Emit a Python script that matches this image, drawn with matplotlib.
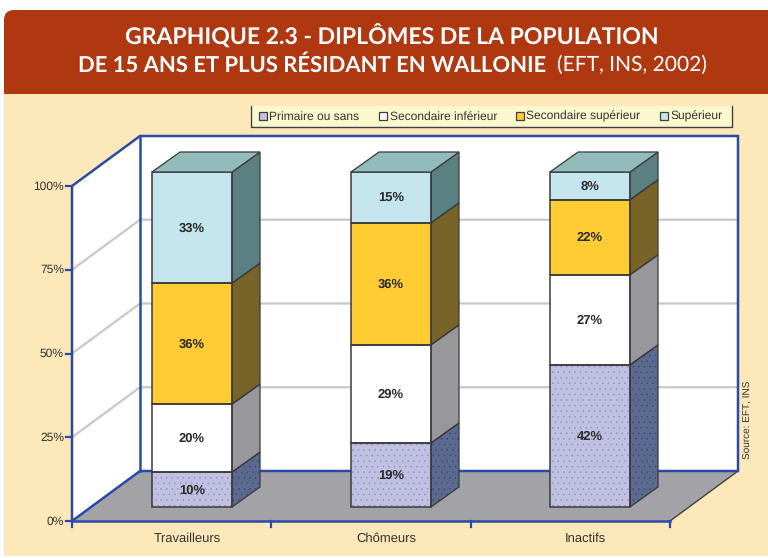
import matplotlib.pyplot as plt
from matplotlib.patches import Polygon, Rectangle, FancyBboxPatch

plt.rcParams['font.family'] = ['Liberation Sans', 'DejaVu Sans']
plt.rcParams['hatch.linewidth'] = 0.3
plt.rcParams['text.hinting'] = 'no_hinting'
plt.rcParams['text.hinting_factor'] = 1

categories = ['Travailleurs', 'Chômeurs', 'Inactifs']
series = ['Primaire ou sans', 'Secondaire inférieur', 'Secondaire supérieur', 'Supérieur']

# segment heights as drawn (%), the printed labels are rounded
primaire = [10.4, 19.1, 42.4]
sec_inf = [20.3, 29.3, 26.9]
sec_sup = [36.1, 36.4, 22.4]
superieur = [33.2, 15.2, 8.3]
values = [primaire, sec_inf, sec_sup, superieur]

primaire_lab = ['10%', '19%', '42%']
sec_inf_lab = ['20%', '29%', '27%']
sec_sup_lab = ['36%', '36%', '22%']
superieur_lab = ['33%', '15%', '8%']
labels = [primaire_lab, sec_inf_lab, sec_sup_lab, superieur_lab]

y_ticks = [0, 25, 50, 75, 100]

face_col = ['#c0c0e2', '#ffffff', '#ffcc33', '#c4e4ee']
side_col = ['#5a6a90', '#98989c', '#786428', '#5a8082']
hatch_face = '#8c8cb4'
hatch_side = '#36466a'
top_col = '#92bcbc'
blue = '#2a4aa8'
edge = '#3a3a3a'
txt = '#333333'

# box geometry in pixels
x0, x1 = 72, 670
y0, y100 = 521, 186
wall_dx, wall_dy = 68, -50
bar_left, bar_step, bar_w = 152, 199, 80
bar_dy = -14
side_dx, side_dy = 28, -20


def py(pct, offset=0):
    return y0 + offset - pct * (y0 - y100) / 100


fig = plt.figure(figsize=(7.68, 5.58), dpi=100, facecolor='white')
ax = fig.add_axes([0, 0, 1, 1])
ax.set_xlim(0, 768)
ax.set_ylim(558, 0)
ax.axis('off')

# background and title band
ax.add_patch(Rectangle((4, 60), 764, 496, fc='#fde8b9', ec='none', zorder=0))
ax.add_patch(FancyBboxPatch((4, 10), 800, 100, boxstyle='round,pad=0,rounding_size=10',
                            fc='#b03810', ec='none', lw=0, zorder=1))
ax.add_patch(Rectangle((4, 94), 764, 60, fc='#fde8b9', ec='none', zorder=1))

ax.text(392, 36, 'GRAPHIQUE 2.3 - DIPLÔMES DE LA POPULATION', color='white', fontsize=16.9,
        fontweight='bold', ha='center', va='center', family='Lato', zorder=2)
ax.text(78, 65, 'DE 15 ANS ET PLUS RÉSIDANT EN WALLONIE', color='white', fontsize=16.2,
        fontweight='bold', ha='left', va='center', family='Lato', zorder=2)
ax.text(707, 65, '(EFT, INS, 2002)', color='white', fontsize=14.9, ha='right', va='center',
        family='Lato', zorder=2)

# walls and floor
ax.add_patch(Polygon([(x0, y0), (x0 + wall_dx, y0 + wall_dy), (x0 + wall_dx, y100 + wall_dy), (x0, y100)],
                     fc='white', ec='none', zorder=2))
ax.add_patch(Rectangle((x0 + wall_dx, y100 + wall_dy), x1 - x0, y0 - y100, fc='white', ec='none', zorder=2))
ax.add_patch(Polygon([(x0, y0), (x1, y0), (x1 + wall_dx, y0 + wall_dy), (x0 + wall_dx, y0 + wall_dy)],
                     fc='#a3a3a7', ec='none', zorder=2))
ax.plot([x1, x1 + wall_dx], [y0, y0 + wall_dy], color='#404040', lw=1, zorder=3)

for t in y_ticks[1:-1]:
    ax.plot([x0, x0 + wall_dx, x1 + wall_dx], [py(t), py(t, wall_dy), py(t, wall_dy)],
            color='#c8c8c8', lw=1.6, zorder=3)

ax.plot([x0, x0, x0 + wall_dx, x1 + wall_dx, x1 + wall_dx, x0 + wall_dx, x0],
        [y0, y100, y100 + wall_dy, y100 + wall_dy, y0 + wall_dy, y0 + wall_dy, y0],
        color=blue, lw=1.8, zorder=4, solid_joinstyle='miter')
ax.plot([x0 + wall_dx, x0 + wall_dx], [y100 + wall_dy, y0 + wall_dy], color=blue, lw=1.8, zorder=4)
ax.plot([x0, x1], [y0, y0], color=blue, lw=1.8, zorder=4)

# axis ticks and labels
for t in y_ticks:
    ax.plot([x0 - 6, x0], [py(t), py(t)], color=blue, lw=1.6, zorder=4)
    ax.text(x0 - 8, py(t) + 0.5, '%d%%' % t, ha='right', va='center', fontsize=8.9, color=txt)
for i in range(4):
    tx = x0 + (x1 - x0) * i / 3
    ax.plot([tx, tx], [y0, y0 + 6], color=blue, lw=1.6, zorder=4)
for i, c in enumerate(categories):
    ax.text(bar_left + bar_step * i + bar_w / 2 - 5, 542, c, ha='center', va='baseline', fontsize=9, color=txt)

# stacked bars
for i in range(len(categories)):
    left = bar_left + bar_step * i
    right = left + bar_w
    base = 0
    for s in range(len(series)):
        v = values[s][i]
        yb, yt = py(base, bar_dy), py(base + v, bar_dy)
        hatch = '...' if s == 0 else None
        ax.add_patch(Rectangle((left, yt), bar_w, yb - yt, fc=face_col[s], ec=hatch_face if s == 0 else 'none',
                               lw=0, hatch=hatch, zorder=5))
        ax.add_patch(Polygon([(right, yb), (right + side_dx, yb + side_dy), (right + side_dx, yt + side_dy), (right, yt)],
                             fc=side_col[s], ec=hatch_side if s == 0 else 'none', lw=0, hatch=hatch, zorder=5))
        ax.add_patch(Rectangle((left, yt), bar_w, yb - yt, fc='none', ec=edge, lw=1.1, zorder=6))
        ax.add_patch(Polygon([(right, yb), (right + side_dx, yb + side_dy), (right + side_dx, yt + side_dy), (right, yt)],
                             fc='none', ec=edge, lw=0.9, zorder=6))
        ax.text(left + bar_w / 2, (yb + yt) / 2 + 0.5, labels[s][i], ha='center', va='center', fontsize=9,
                fontweight='bold', color='#2a2a2a', zorder=7)
        base += v
    yt = py(base, bar_dy)
    ax.add_patch(Polygon([(left, yt), (right, yt), (right + side_dx, yt + side_dy), (left + side_dx, yt + side_dy)],
                         fc=top_col, ec=edge, lw=0.9, zorder=6))

# legend
ax.add_patch(Rectangle((250, 106), 482, 21, fc='#fbf8cf', ec='none', zorder=3))
ax.plot([250.5, 250.5, 731.5, 731.5], [106, 126.5, 126.5, 106], color='#404040', lw=1, zorder=4)
leg_box = [258.5, 379, 516, 660]
for s, name in enumerate(series):
    ax.add_patch(Rectangle((leg_box[s], 111.5), 8, 8, fc=face_col[s], ec='#404040', lw=0.9, zorder=5))
    ax.text(leg_box[s] + 10.5, 119.9, name, ha='left', va='baseline', fontsize=8.85, color=txt, zorder=5)

ax.text(748, 420, 'Source: EFT, INS', rotation=90, ha='center', va='center', fontsize=7.5, color=txt)

fig.savefig('out.png', dpi=100)
